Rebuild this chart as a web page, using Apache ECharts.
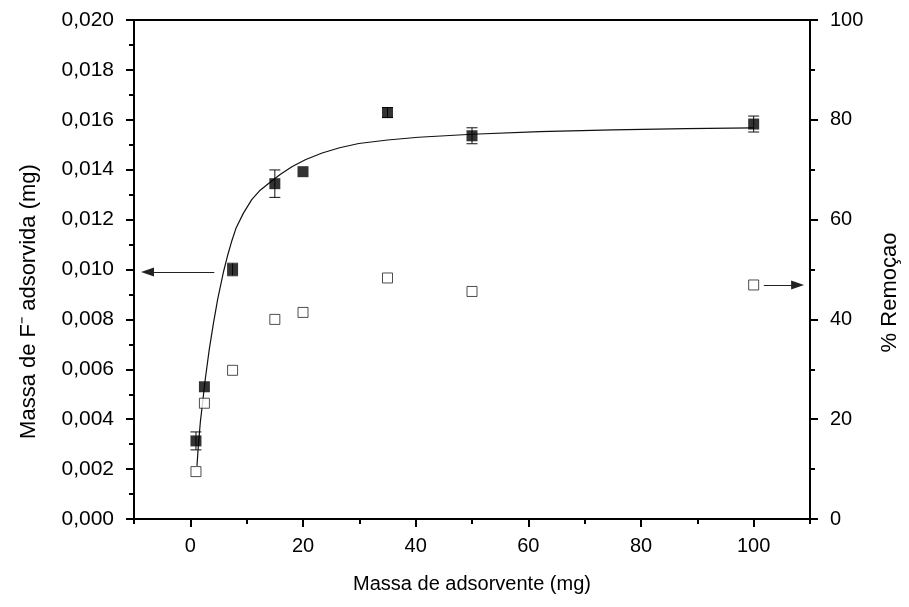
<!DOCTYPE html>
<html>
<head>
<meta charset="utf-8">
<script src="https://cdn.jsdelivr.net/npm/echarts@6/dist/echarts.min.js"></script>
<style>
  html, body { margin: 0; padding: 0; background: #fff; }
  #chart { width: 909px; height: 607px; }
</style>
</head>
<body>
<div id="chart"></div>
<script>
// Adsorbent mass (mg) used in each run
const adsorbentMass = [1, 2.5, 7.5, 15, 20, 35, 50, 100];
// Mass of fluoride adsorbed (mg) and its standard deviation
const fluorideAdsorbed = [0.00313, 0.0053, 0.0100, 0.01344, 0.01392, 0.01629, 0.01536, 0.01583];
const fluorideError = [0.00036, 0, 0.00025, 0.00055, 0, 0.0002, 0.00032, 0.00032];
// Removal percentage (right axis)
const removalPercent = [9.5, 23.2, 29.8, 40.0, 41.4, 48.3, 45.6, 46.9];
// Fitted adsorption curve
const fitMass = [1.18, 1.42, 1.77, 2.18, 2.65, 3.36, 4.12, 4.85, 5.91, 6.6, 7.3, 8.1, 9.4, 10.9, 12.4, 14.0, 16.0, 18.1, 20.5, 23.4, 26.5, 29.9, 35, 40.5, 50, 62, 75, 88, 100];
const fitAdsorbed = [0.00213, 0.00293, 0.00387, 0.00467, 0.0056, 0.0068, 0.00787, 0.0088, 0.00993, 0.01055, 0.0111, 0.01165, 0.01225, 0.0128, 0.01318, 0.01347, 0.01382, 0.01413, 0.01441, 0.01467, 0.01488, 0.01505, 0.01519, 0.0153, 0.01542, 0.01553, 0.0156, 0.01565, 0.01568];
// Axis ticks
const xMajorTicks = [0, 20, 40, 60, 80, 100];
const xMinorTicks = [-10, 10, 30, 50, 70, 90, 110];

const FONT = '"Liberation Sans", Arial, sans-serif';
const black = '#000';

const chart = echarts.init(document.getElementById('chart'), null, { renderer: 'canvas' });

const axisLine = { show: true, onZero: false, lineStyle: { color: black, width: 2 } };

chart.setOption({
  animation: false,
  backgroundColor: '#fff',
  grid: {
    left: 134, right: 96, top: 20, bottom: 88,
    show: true, borderColor: black, borderWidth: 2, backgroundColor: 'transparent'
  },
  xAxis: [
    {
      type: 'value', min: -10, max: 110, position: 'bottom',
      name: 'Massa de adsorvente (mg)', nameLocation: 'middle', nameGap: 55,
      nameTextStyle: { fontFamily: FONT, fontSize: 20, color: black },
      axisLine: axisLine,
      axisTick: { show: true, length: 8, lineStyle: { color: black, width: 2 }, customValues: xMajorTicks },
      axisLabel: { show: true, margin: 17, fontFamily: FONT, fontSize: 20, color: black, customValues: xMajorTicks },
      splitLine: { show: false }
    },
    {
      type: 'value', min: -10, max: 110, position: 'bottom', gridIndex: 0,
      axisLine: { show: false },
      axisTick: { show: true, length: 5, lineStyle: { color: black, width: 2 }, customValues: xMinorTicks },
      axisLabel: { show: false },
      splitLine: { show: false }
    }
  ],
  yAxis: [
    {
      type: 'value', min: 0, max: 0.02, interval: 0.002, position: 'left',
      name: 'Massa de F\u207B adsorvida (mg)', nameLocation: 'middle', nameGap: 94, nameRotate: 90,
      nameTextStyle: { fontFamily: FONT, fontSize: 22, color: black, padding: [0, 64, 0, 0] },
      axisLine: axisLine,
      axisTick: { show: true, length: 8, lineStyle: { color: black, width: 2 } },
      minorTick: { show: true, splitNumber: 2, length: 5, lineStyle: { color: black, width: 2 } },
      axisLabel: {
        margin: 20, fontFamily: FONT, fontSize: 21, color: black,
        formatter: v => v.toFixed(3).replace('.', ',')
      },
      splitLine: { show: false }
    },
    {
      type: 'value', min: 0, max: 100, interval: 20, position: 'right',
      name: '% Remoçao', nameLocation: 'middle', nameGap: 69, nameRotate: 90,
      nameTextStyle: { fontFamily: FONT, fontSize: 22, color: black, padding: [0, 46, 0, 0] },
      axisLine: axisLine,
      axisTick: { show: true, length: 8, lineStyle: { color: black, width: 2 } },
      minorTick: { show: true, splitNumber: 2, length: 5, lineStyle: { color: black, width: 2 } },
      axisLabel: { margin: 20, fontFamily: FONT, fontSize: 20, color: black },
      splitLine: { show: false }
    }
  ],
  series: [
    {
      name: 'ajuste',
      type: 'line',
      xAxisIndex: 0, yAxisIndex: 0,
      data: fitMass.map((x, i) => [x, fitAdsorbed[i]]),
      smooth: false,
      showSymbol: false,
      symbol: 'none',
      lineStyle: { color: '#111', width: 1.2 },
      z: 2,
      markLine: {
        silent: true,
        symbol: ['none', 'triangle'],
        symbolSize: [9, 13],
        label: { show: false },
        lineStyle: { color: '#222', width: 1, type: 'solid' },
        data: [[{ coord: [4.25, 0.0099] }, { coord: [-7.6, 0.0099] }]]
      }
    },
    {
      name: 'desvio',
      type: 'custom',
      xAxisIndex: 0, yAxisIndex: 0,
      data: adsorbentMass.map((x, i) => [x, fluorideAdsorbed[i], fluorideError[i]]),
      z: 3,
      renderItem: (params, api) => {
        const x = api.value(0), y = api.value(1), e = api.value(2);
        if (!e) return { type: 'group', children: [] };
        const top = api.coord([x, y + e]);
        const bot = api.coord([x, y - e]);
        const hw = 5.5;
        const style = { stroke: '#111', lineWidth: 1 };
        return {
          type: 'group',
          children: [
            { type: 'line', shape: { x1: top[0], y1: top[1], x2: bot[0], y2: bot[1] }, style },
            { type: 'line', shape: { x1: top[0] - hw, y1: top[1], x2: top[0] + hw, y2: top[1] }, style },
            { type: 'line', shape: { x1: bot[0] - hw, y1: bot[1], x2: bot[0] + hw, y2: bot[1] }, style }
          ]
        };
      }
    },
    {
      name: 'Massa de F- adsorvida',
      type: 'scatter',
      xAxisIndex: 0, yAxisIndex: 0,
      data: adsorbentMass.map((x, i) => [x, fluorideAdsorbed[i]]),
      symbol: 'rect',
      symbolSize: 11,
      itemStyle: { color: black },
      z: 4
    },
    {
      name: '% Remoçao',
      type: 'scatter',
      xAxisIndex: 0, yAxisIndex: 1,
      data: adsorbentMass.map((x, i) => [x, removalPercent[i]]),
      symbol: 'rect',
      symbolSize: 10,
      itemStyle: { color: '#fff', borderColor: '#222', borderWidth: 1 },
      z: 4,
      markLine: {
        silent: true,
        symbol: ['none', 'triangle'],
        symbolSize: [9, 13],
        label: { show: false },
        lineStyle: { color: '#222', width: 1, type: 'solid' },
        data: [[{ coord: [101.8, 46.9] }, { coord: [107.8, 46.9] }]]
      }
    }
  ]
});
</script>
</body>
</html>
